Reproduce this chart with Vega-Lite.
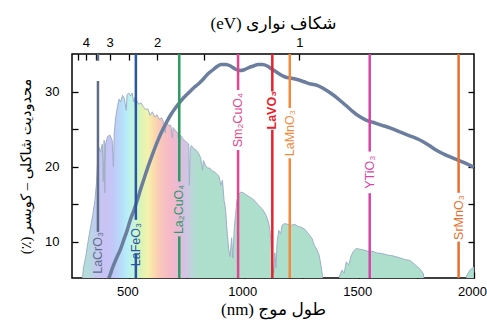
{
  "$schema": "https://vega.github.io/schema/vega-lite/v6.json",
  "autosize": {"type": "none"},
  "padding": {"left": 72, "top": 54, "right": 13, "bottom": 47},
  "width": 402,
  "height": 224,
  "background": "white",
  "config": {
    "view": {"stroke": "black", "strokeWidth": 1.5},
    "axis": {
      "grid": false, "domain": false, "tickColor": "black", "tickWidth": 1.3, "tickSize": 6, "offset": -6,
      "labelFont": "Liberation Sans", "labelFontSize": 13, "labelColor": "black",
      "titleFont": "Liberation Serif, DejaVu Sans", "titleFontSize": 17, "titleFontWeight": "normal", "titleColor": "black"
    }
  },
  "datasets": {
    "spectrum": [
      {"nm": 285, "pct": 0}, {"nm": 292, "pct": 4}, {"nm": 300, "pct": 6.5}, {"nm": 310, "pct": 8}, {"nm": 320, "pct": 10},
      {"nm": 330, "pct": 11.8}, {"nm": 340, "pct": 13.5}, {"nm": 350, "pct": 15.5}, {"nm": 357, "pct": 18}, {"nm": 362, "pct": 21},
      {"nm": 368, "pct": 22.5}, {"nm": 375, "pct": 22}, {"nm": 382, "pct": 23}, {"nm": 386, "pct": 18}, {"nm": 390, "pct": 23.5},
      {"nm": 393, "pct": 16.5}, {"nm": 396, "pct": 23}, {"nm": 405, "pct": 24}, {"nm": 415, "pct": 24.2}, {"nm": 425, "pct": 23.5},
      {"nm": 430, "pct": 20}, {"nm": 434, "pct": 24.5}, {"nm": 440, "pct": 26.5}, {"nm": 448, "pct": 28}, {"nm": 455, "pct": 29},
      {"nm": 462, "pct": 28.6}, {"nm": 470, "pct": 29.5}, {"nm": 478, "pct": 29}, {"nm": 486, "pct": 27.5}, {"nm": 490, "pct": 29.6},
      {"nm": 497, "pct": 29.8}, {"nm": 505, "pct": 29.4}, {"nm": 512, "pct": 29.8}, {"nm": 518, "pct": 28.6}, {"nm": 522, "pct": 29.2},
      {"nm": 527, "pct": 27.7}, {"nm": 532, "pct": 28.8}, {"nm": 540, "pct": 28.3}, {"nm": 550, "pct": 28.5}, {"nm": 560, "pct": 28},
      {"nm": 570, "pct": 27.6}, {"nm": 580, "pct": 27.7}, {"nm": 590, "pct": 26.8}, {"nm": 600, "pct": 27.3}, {"nm": 610, "pct": 26.6},
      {"nm": 620, "pct": 26.9}, {"nm": 630, "pct": 26.3}, {"nm": 640, "pct": 26.5}, {"nm": 650, "pct": 25.8}, {"nm": 656, "pct": 24.5},
      {"nm": 660, "pct": 26}, {"nm": 670, "pct": 25.5}, {"nm": 680, "pct": 25.5}, {"nm": 687, "pct": 23.8}, {"nm": 690, "pct": 25.2},
      {"nm": 700, "pct": 24.8}, {"nm": 710, "pct": 24.5}, {"nm": 718, "pct": 22.5}, {"nm": 722, "pct": 24.2}, {"nm": 730, "pct": 23.8},
      {"nm": 740, "pct": 23.5}, {"nm": 750, "pct": 23.2}, {"nm": 758, "pct": 23}, {"nm": 761, "pct": 17.5}, {"nm": 765, "pct": 22.5},
      {"nm": 770, "pct": 22.8}, {"nm": 780, "pct": 22.4}, {"nm": 790, "pct": 22.2}, {"nm": 800, "pct": 21.8}, {"nm": 810, "pct": 21.2},
      {"nm": 818, "pct": 19.5}, {"nm": 822, "pct": 20.8}, {"nm": 830, "pct": 20.2}, {"nm": 840, "pct": 19.8}, {"nm": 850, "pct": 19.8},
      {"nm": 860, "pct": 19.4}, {"nm": 870, "pct": 19.3}, {"nm": 880, "pct": 19}, {"nm": 890, "pct": 18.7}, {"nm": 898, "pct": 17.5},
      {"nm": 905, "pct": 18.2}, {"nm": 912, "pct": 15.5}, {"nm": 918, "pct": 14.5}, {"nm": 925, "pct": 11.5}, {"nm": 932, "pct": 9},
      {"nm": 938, "pct": 8}, {"nm": 945, "pct": 10.5}, {"nm": 950, "pct": 7.8}, {"nm": 957, "pct": 12}, {"nm": 962, "pct": 13.5},
      {"nm": 968, "pct": 15.5}, {"nm": 975, "pct": 16.3}, {"nm": 985, "pct": 16.6}, {"nm": 995, "pct": 16.5}, {"nm": 1005, "pct": 16.3},
      {"nm": 1020, "pct": 16}, {"nm": 1040, "pct": 15.6}, {"nm": 1060, "pct": 14.9}, {"nm": 1080, "pct": 14.3}, {"nm": 1095, "pct": 13.5},
      {"nm": 1105, "pct": 12.6}, {"nm": 1112, "pct": 11.5}, {"nm": 1118, "pct": 9}, {"nm": 1122, "pct": 7}, {"nm": 1128, "pct": 5.8},
      {"nm": 1133, "pct": 8.5}, {"nm": 1138, "pct": 6.5}, {"nm": 1143, "pct": 10}, {"nm": 1150, "pct": 11.5}, {"nm": 1158, "pct": 11},
      {"nm": 1165, "pct": 12.2}, {"nm": 1175, "pct": 12.4}, {"nm": 1190, "pct": 12.3}, {"nm": 1205, "pct": 12.2}, {"nm": 1220, "pct": 12.3},
      {"nm": 1235, "pct": 12}, {"nm": 1250, "pct": 11.9}, {"nm": 1265, "pct": 11.6}, {"nm": 1280, "pct": 11}, {"nm": 1295, "pct": 10.4},
      {"nm": 1305, "pct": 9.5}, {"nm": 1315, "pct": 9}, {"nm": 1325, "pct": 8.3}, {"nm": 1333, "pct": 7}, {"nm": 1340, "pct": 5.5},
      {"nm": 1345, "pct": 0}, {"nm": 1405, "pct": 0}, {"nm": 1415, "pct": 5.4}, {"nm": 1425, "pct": 6.2}, {"nm": 1435, "pct": 5.8},
      {"nm": 1444, "pct": 7.3}, {"nm": 1455, "pct": 6.9}, {"nm": 1465, "pct": 8.1}, {"nm": 1475, "pct": 8.7}, {"nm": 1488, "pct": 9.1},
      {"nm": 1500, "pct": 9}, {"nm": 1517, "pct": 8.9}, {"nm": 1540, "pct": 8.7}, {"nm": 1560, "pct": 8.7}, {"nm": 1575, "pct": 8.5},
      {"nm": 1600, "pct": 8.4}, {"nm": 1625, "pct": 8.2}, {"nm": 1647, "pct": 8.1}, {"nm": 1670, "pct": 7.9}, {"nm": 1700, "pct": 7.6},
      {"nm": 1720, "pct": 7.5}, {"nm": 1740, "pct": 7}, {"nm": 1763, "pct": 6.4}, {"nm": 1780, "pct": 5.7}, {"nm": 1795, "pct": 0},
      {"nm": 1955, "pct": 0}, {"nm": 1968, "pct": 5.5}, {"nm": 1985, "pct": 6.3}, {"nm": 2000, "pct": 6.6}
    ],
    "sq": [
      {"nm": 400, "sq": 4.2}, {"nm": 415, "sq": 5.5}, {"nm": 430, "sq": 6.8}, {"nm": 445, "sq": 7.9}, {"nm": 460, "sq": 8.9},
      {"nm": 475, "sq": 10.2}, {"nm": 490, "sq": 11.5}, {"nm": 505, "sq": 13.0}, {"nm": 520, "sq": 14.2}, {"nm": 535, "sq": 15.6},
      {"nm": 550, "sq": 17.1}, {"nm": 565, "sq": 18.5}, {"nm": 580, "sq": 19.9}, {"nm": 600, "sq": 21.6}, {"nm": 620, "sq": 23.2},
      {"nm": 640, "sq": 24.6}, {"nm": 660, "sq": 25.8}, {"nm": 680, "sq": 26.9}, {"nm": 700, "sq": 27.8}, {"nm": 720, "sq": 28.6},
      {"nm": 740, "sq": 29.3}, {"nm": 760, "sq": 29.9}, {"nm": 780, "sq": 30.5}, {"nm": 800, "sq": 31.0}, {"nm": 820, "sq": 31.6},
      {"nm": 840, "sq": 32.3}, {"nm": 860, "sq": 32.8}, {"nm": 880, "sq": 33.3}, {"nm": 900, "sq": 33.6}, {"nm": 920, "sq": 33.6},
      {"nm": 940, "sq": 33.4}, {"nm": 960, "sq": 33.0}, {"nm": 980, "sq": 32.8}, {"nm": 1000, "sq": 32.9}, {"nm": 1020, "sq": 33.2},
      {"nm": 1040, "sq": 33.4}, {"nm": 1060, "sq": 33.6}, {"nm": 1080, "sq": 33.6}, {"nm": 1100, "sq": 33.4}, {"nm": 1120, "sq": 33.0},
      {"nm": 1140, "sq": 32.6}, {"nm": 1160, "sq": 32.2}, {"nm": 1180, "sq": 31.9}, {"nm": 1200, "sq": 31.8}, {"nm": 1230, "sq": 31.6},
      {"nm": 1260, "sq": 31.3}, {"nm": 1290, "sq": 31.0}, {"nm": 1320, "sq": 30.8}, {"nm": 1350, "sq": 30.3}, {"nm": 1380, "sq": 29.7},
      {"nm": 1410, "sq": 29.0}, {"nm": 1440, "sq": 28.2}, {"nm": 1470, "sq": 27.4}, {"nm": 1500, "sq": 26.7}, {"nm": 1530, "sq": 26.2},
      {"nm": 1560, "sq": 25.9}, {"nm": 1600, "sq": 25.5}, {"nm": 1640, "sq": 25.1}, {"nm": 1680, "sq": 24.6}, {"nm": 1720, "sq": 24.1},
      {"nm": 1760, "sq": 23.6}, {"nm": 1800, "sq": 22.9}, {"nm": 1840, "sq": 22.1}, {"nm": 1880, "sq": 21.5}, {"nm": 1920, "sq": 21.0},
      {"nm": 1960, "sq": 20.5}, {"nm": 2000, "sq": 19.9}
    ],
    "segments": [
      {"material": "LaCrO3", "nm": 363, "top": 35, "bottom": 34.1},
      {"material": "LaCrO3", "nm": 363, "top": 31.4, "bottom": 11.3},
      {"material": "LaFeO3", "nm": 528, "top": 35, "bottom": 12.9},
      {"material": "LaFeO3", "nm": 528, "top": 8.4, "bottom": 5.15},
      {"material": "La2CuO4", "nm": 717, "top": 35, "bottom": 18.0},
      {"material": "La2CuO4", "nm": 717, "top": 10.7, "bottom": 5.15},
      {"material": "Sm2CuO4", "nm": 973, "top": 35, "bottom": 30.2},
      {"material": "Sm2CuO4", "nm": 973, "top": 22.2, "bottom": 5.15},
      {"material": "LaVO3", "nm": 1122, "top": 35, "bottom": 30.0},
      {"material": "LaVO3", "nm": 1122, "top": 24.9, "bottom": 5.15},
      {"material": "LaMnO3", "nm": 1198, "top": 35, "bottom": 27.8},
      {"material": "LaMnO3", "nm": 1198, "top": 21.1, "bottom": 5.15},
      {"material": "YTiO3", "nm": 1546, "top": 35, "bottom": 22.0},
      {"material": "YTiO3", "nm": 1546, "top": 16.45, "bottom": 5.15},
      {"material": "SrMnO3", "nm": 1933, "top": 35, "bottom": 16.5},
      {"material": "SrMnO3", "nm": 1933, "top": 10.0, "bottom": 5.15}
    ],
    "labels": [
      {"material": "LaCrO3", "text": "LaCrO₃", "nm": 363, "pos": 8.5, "bold": false},
      {"material": "LaFeO3", "text": "LaFeO₃", "nm": 528, "pos": 9.6, "bold": false},
      {"material": "La2CuO4", "text": "La₂CuO₄", "nm": 717, "pos": 14.3, "bold": false},
      {"material": "Sm2CuO4", "text": "Sm₂CuO₄", "nm": 973, "pos": 26.2, "bold": false},
      {"material": "LaVO3", "text": "LaVO₃", "nm": 1122, "pos": 27.5, "bold": true},
      {"material": "LaMnO3", "text": "LaMnO₃", "nm": 1198, "pos": 24.45, "bold": false},
      {"material": "YTiO3", "text": "YTiO₃", "nm": 1546, "pos": 19.25, "bold": false},
      {"material": "SrMnO3", "text": "SrMnO₃", "nm": 1933, "pos": 13.2, "bold": false}
    ]
  },
  "resolve": {"axis": {"x": "independent", "y": "independent"}},
  "layer": [
    {
      "data": {"name": "spectrum"},
      "mark": {
        "type": "area", "clip": true, "stroke": "#9fb0c8", "strokeWidth": 1, "interpolate": "linear",
        "fill": {
          "gradient": "linear", "x1": 0, "y1": 0, "x2": 1, "y2": 0,
          "stops": [
            {"offset": 0, "color": "#b0e0d0"},
            {"offset": 0.0204, "color": "#b4dcdc"},
            {"offset": 0.0379, "color": "#c0cdee"},
            {"offset": 0.0612, "color": "#c9c2f3"},
            {"offset": 0.0845, "color": "#c2c8f8"},
            {"offset": 0.102, "color": "#b8daf9"},
            {"offset": 0.1195, "color": "#b6eef8"},
            {"offset": 0.1341, "color": "#c2f4df"},
            {"offset": 0.1516, "color": "#d8f4b8"},
            {"offset": 0.172, "color": "#f4f2ac"},
            {"offset": 0.1866, "color": "#fadcad"},
            {"offset": 0.2041, "color": "#f9c6bb"},
            {"offset": 0.2303, "color": "#f5b9c8"},
            {"offset": 0.2507, "color": "#e8b9d8"},
            {"offset": 0.2682, "color": "#d2c4e4"},
            {"offset": 0.2857, "color": "#b8d8d6"},
            {"offset": 0.3003, "color": "#addfcc"},
            {"offset": 1, "color": "#addfcc"}
          ]
        }
      },
      "encoding": {
        "x": {
          "field": "nm", "type": "quantitative",
          "scale": {"domain": [250, 2000], "nice": false, "zero": false},
          "axis": {
            "orient": "bottom", "title": "(nm) طول موج", "values": [500, 750, 1000, 1250, 1500, 1750, 2000],
            "format": "d", "labelExpr": "datum.value % 500 == 0 ? datum.label : ''", "labelFlush": false,
            "labelOffset": -2, "labelPadding": 7, "titlePadding": 3
          }
        },
        "y": {
          "field": "pct", "type": "quantitative",
          "scale": {"domain": [5.15, 35], "nice": false, "zero": false},
          "axis": {
            "orient": "left", "title": "(٪) محدودیت شاکلی – کویسر", "titleFontSize": 14.5, "values": [10, 15, 20, 25, 30],
            "labelExpr": "datum.value % 10 == 0 ? datum.label : ''", "labelPadding": 13, "titlePadding": 11
          }
        }
      }
    },
    {
      "data": {"name": "sq"},
      "mark": {"type": "line", "clip": true, "color": "#6b7e9e", "strokeWidth": 3.5, "interpolate": "monotone"},
      "encoding": {
        "x": {
          "field": "nm", "type": "quantitative",
          "axis": {
            "orient": "top", "title": "(eV) شکاف نواری", "values": [275.6, 310, 354.3, 413.3, 496, 620, 826.7, 1240],
            "labelExpr": "abs(1240/datum.value - round(1240/datum.value)) < 0.01 ? format(round(1240/datum.value), 'd') : ''",
            "labelFlush": false, "labelPadding": 5, "titlePadding": 4
          }
        },
        "y": {
          "field": "sq", "type": "quantitative",
          "axis": {"orient": "right", "title": null, "values": [10, 15, 20, 25, 30], "labels": false}
        }
      }
    },
    {
      "data": {"name": "segments"},
      "mark": {"type": "rule", "strokeWidth": 2.5},
      "encoding": {
        "x": {"field": "nm", "type": "quantitative", "axis": null},
        "y": {"field": "top", "type": "quantitative", "axis": null},
        "y2": {"field": "bottom"},
        "color": {
          "field": "material", "type": "nominal", "legend": null,
          "scale": {
            "domain": ["LaCrO3", "LaFeO3", "La2CuO4", "Sm2CuO4", "LaVO3", "LaMnO3", "YTiO3", "SrMnO3"],
            "range": ["#5f6d88", "#2756a8", "#2f9a62", "#e4468e", "#e5232e", "#f5883a", "#d843a8", "#e8702e"]
          }
        }
      }
    },
    {
      "data": {"name": "labels"},
      "transform": [{"filter": "!datum.bold"}],
      "mark": {"type": "text", "angle": 270, "align": "center", "baseline": "middle", "font": "Liberation Sans", "fontSize": 12.5},
      "encoding": {
        "x": {"field": "nm", "type": "quantitative", "axis": null},
        "y": {"field": "pos", "type": "quantitative", "axis": null},
        "text": {"field": "text"},
        "color": {"field": "material", "type": "nominal", "legend": null}
      }
    },
    {
      "data": {"name": "labels"},
      "transform": [{"filter": "datum.bold"}],
      "mark": {"type": "text", "angle": 270, "align": "center", "baseline": "middle", "font": "Liberation Sans", "fontSize": 12.5, "fontWeight": "bold"},
      "encoding": {
        "x": {"field": "nm", "type": "quantitative", "axis": null},
        "y": {"field": "pos", "type": "quantitative", "axis": null},
        "text": {"field": "text"},
        "color": {"field": "material", "type": "nominal", "legend": null}
      }
    }
  ]
}
